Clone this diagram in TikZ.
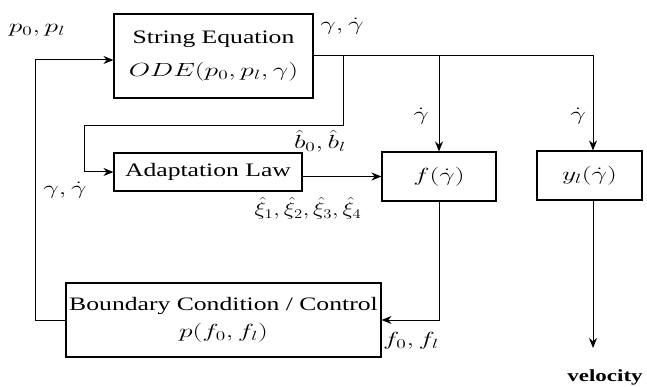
\RequirePackage{fix-cm}
\documentclass[tikz,border=0pt]{standalone}
\usepackage{fontspec}
\setmainfont{Liberation Serif}[FakeStretch=1.35]
\usetikzlibrary{arrows.meta}
\newcommand{\wm}[1]{\scalebox{1.45}[1]{$#1$}}

\begin{document}
\begin{tikzpicture}[x=1pt,y=-1pt,>={Stealth[length=10pt,width=8pt]},line width=1pt,
 box/.style={draw,line width=1.1pt,align=center,inner sep=1pt,font=\fontsize{19}{27}\selectfont},
 sig/.style={inner sep=0pt,font=\fontsize{19}{21}\selectfont}]
\useasboundingbox (0,0) rectangle (647,387);
% blocks
\node[box,minimum width=199pt,minimum height=84pt] (se) at (213.5,56) {String Equation\\[6pt]\wm{ODE(p_0,p_l,\gamma)}};
\node[box,minimum width=188pt,minimum height=38pt] (al) at (208,172) {Adaptation Law};
\node[box,minimum width=114pt,minimum height=49pt] (f) at (439,176.5) {\wm{f(\dot\gamma)}};
\node[box,minimum width=105pt,minimum height=49pt] (y) at (589.5,175.5) {\wm{y_l(\dot\gamma)}};
\node[box,minimum width=315pt,minimum height=74pt] (bc) at (223.5,320) {Boundary Condition / Control\\\wm{p(f_0,f_l)}};
% junctions
\coordinate (j1) at (343,56);
\coordinate (j2) at (439,56);
\coordinate (j3) at (593,56);
\coordinate (ve) at (593,348);
% connectors
\draw[->] (se.east) -- (j3) -- (j3 |- y.north);
\draw[->] (j2) -- (f.north);
\draw[->] (j1) |- (84,126) |- (al.west);
\draw[->] (al.east |- f.west) -- (f.west);
\draw[->] (f.south) |- (bc.east);
\draw[->] (bc.west) -- ++(-30,0) |- ([yshift=-4pt]se.west);
\draw[->] (j3 |- y.south) -- (ve);
% signal labels
\node[sig] (lp) at (37,30) {\wm{p_0,p_l}};
\node[sig] (lg) at (342,26) {\wm{\gamma,\dot\gamma}};
\node[sig] (lgf) at (421,116) {\wm{\dot\gamma}};
\node[sig] (lgy) at (578,116) {\wm{\dot\gamma}};
\node[sig] (lb) at (320,141) {\wm{\hat b_0,\hat b_l}};
\node[sig] (lga) at (65,190) {\wm{\gamma,\dot\gamma}};
\node[sig] (lxi) at (308,208) {\scalebox{1.25}[1]{$\hat\xi_1,\hat\xi_2,\hat\xi_3,\hat\xi_4$}};
\node[sig] (lf) at (411,341) {\wm{f_0,f_l}};
\node[sig,font=\fontsize{17}{19}\selectfont\bfseries] (lv) at (605,377) {velocity};
\end{tikzpicture}
\end{document}
